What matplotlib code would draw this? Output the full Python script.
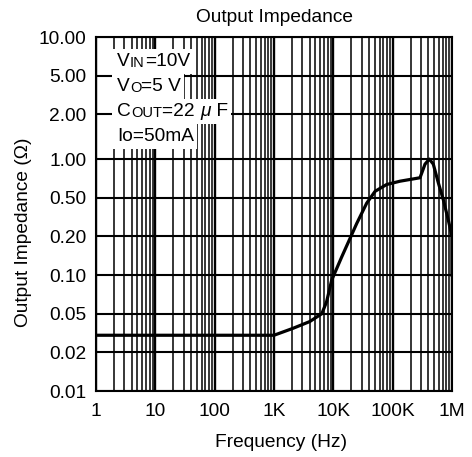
import numpy as np
import matplotlib
matplotlib.use("Agg")
import matplotlib.pyplot as plt
from matplotlib.ticker import FixedLocator, NullLocator, LogLocator
from matplotlib.patches import Rectangle
from matplotlib.transforms import Bbox, IdentityTransform

plt.rcParams['font.family'] = ['Liberation Sans', 'DejaVu Sans']

# data
freq_hz = [1, 1000, 2100, 4000, 6400, 7700, 9400, 13800, 24800, 36500, 50500,
           79000, 133000, 289000, 351000, 415000, 484000, 588000, 714000,
           867000, 1000000, 1000000]
impedance = [0.030, 0.030, 0.0354, 0.0415, 0.050, 0.062, 0.0915, 0.138, 0.272,
             0.44, 0.561, 0.634, 0.673, 0.716, 0.914, 1.0, 0.914, 0.654, 0.477,
             0.294, 0.2, 0.1]

x_ticks = [1, 10, 100, 1e3, 1e4, 1e5, 1e6]
x_labels = ["1", "10", "100", "1K", "10K", "100K", "1M"]
y_ticks = [0.01, 0.02, 0.05, 0.1, 0.2, 0.5, 1, 2, 5, 10]
y_labels = ["%.2f" % v for v in y_ticks]

# the y axis of the original is spaced by label, not by true log distance
tick_pos = [0, 1, 2, 3, 4, 5, 6, 7.16, 8.16, 9.16]
log_ticks = np.log10(y_ticks)


def fwd(y):
    y = np.clip(np.asarray(y, dtype=float), 1e-6, None)
    return np.interp(np.log10(y), log_ticks, tick_pos)


def inv(p):
    return 10 ** np.interp(p, tick_pos, log_ticks)


fig = plt.figure(figsize=(4.72, 4.57), dpi=100)
ax = fig.add_axes([96 / 472, 66 / 457, 356 / 472, 354 / 457])

ax.set_xscale('log')
ax.set_yscale('function', functions=(fwd, inv))
ax.set_xlim(1, 1e6)
ax.set_ylim(0.01, 10)

ax.xaxis.set_major_locator(FixedLocator(x_ticks))
ax.set_xticklabels(x_labels)
ax.xaxis.set_minor_locator(LogLocator(base=10, subs=np.arange(2, 10), numticks=20))
ax.xaxis.set_minor_formatter(plt.NullFormatter())
ax.yaxis.set_major_locator(FixedLocator(y_ticks))
ax.set_yticklabels(y_labels)
ax.yaxis.set_minor_locator(NullLocator())

ax.tick_params(which='both', length=0, labelsize=13.8)
ax.tick_params(axis='y', pad=7)
ax.tick_params(axis='x', pad=9)

ax.grid(which='major', axis='x', color='black', lw=1.7)
ax.grid(which='minor', axis='x', color='black', lw=1.1)
ax.grid(which='major', axis='y', color='black', lw=1.5)
ax.set_axisbelow(True)
for sp in ax.spines.values():
    sp.set_linewidth(1.5)

ax.plot(freq_hz, impedance, color='black', lw=2.3, solid_joinstyle='round', zorder=3)

ax.set_title("Output Impedance", fontsize=13.8, pad=11)
ax.set_xlabel("Frequency (Hz)", fontsize=13.8)
ax.xaxis.set_label_coords(0.521, -0.121)
ax.set_ylabel("Output Impedance (\u03a9)", fontsize=13.8)
ax.yaxis.set_label_coords(-0.181, 0.449)

# condition box: text pieces (small caps done with a smaller size)
lines = [
    [("V", 13.8), ("IN", 10.5), ("=10V", 13.8)],
    [("V", 13.8), ("O", 10.5), ("=5 V", 13.8)],
    [("C", 13.8), ("OUT", 10.5), ("=22 ", 13.8), ("\u03bc", 13.8), (" F", 13.8)],
    [("Io=50mA", 13.8)],
]
y0 = 0.918
line_texts = []
for i, parts in enumerate(lines):
    prev = None
    pieces = []
    for txt, size in parts:
        style = 'italic' if txt == "\u03bc" else 'normal'
        if prev is None:
            prev = ax.text(0.06, y0 - i * 0.0705, txt, transform=ax.transAxes,
                           fontsize=size, va='baseline', ha='left', zorder=5)
        else:
            prev = ax.annotate(txt, xy=(1, 0), xycoords=prev, xytext=(0, 0),
                               textcoords='offset points', fontsize=size,
                               fontstyle=style, va='bottom', ha='left', zorder=5)
        pieces.append(prev)
    line_texts.append(pieces)

# white patch behind each text line, lines stacked without gaps
fig.canvas.draw()
renderer = fig.canvas.get_renderer()
step = 0.0705 * ax.get_window_extent().height
for pieces in line_texts:
    bb = Bbox.union([p.get_window_extent(renderer) for p in pieces])
    yc = (bb.y0 + bb.y1) / 2
    rect = Rectangle((bb.x0 - 5, yc - step / 2), bb.width + 8, step,
                     transform=IdentityTransform(), facecolor='white',
                     edgecolor='none', zorder=4)
    ax.add_patch(rect)

fig.savefig("out.png", dpi=100)
